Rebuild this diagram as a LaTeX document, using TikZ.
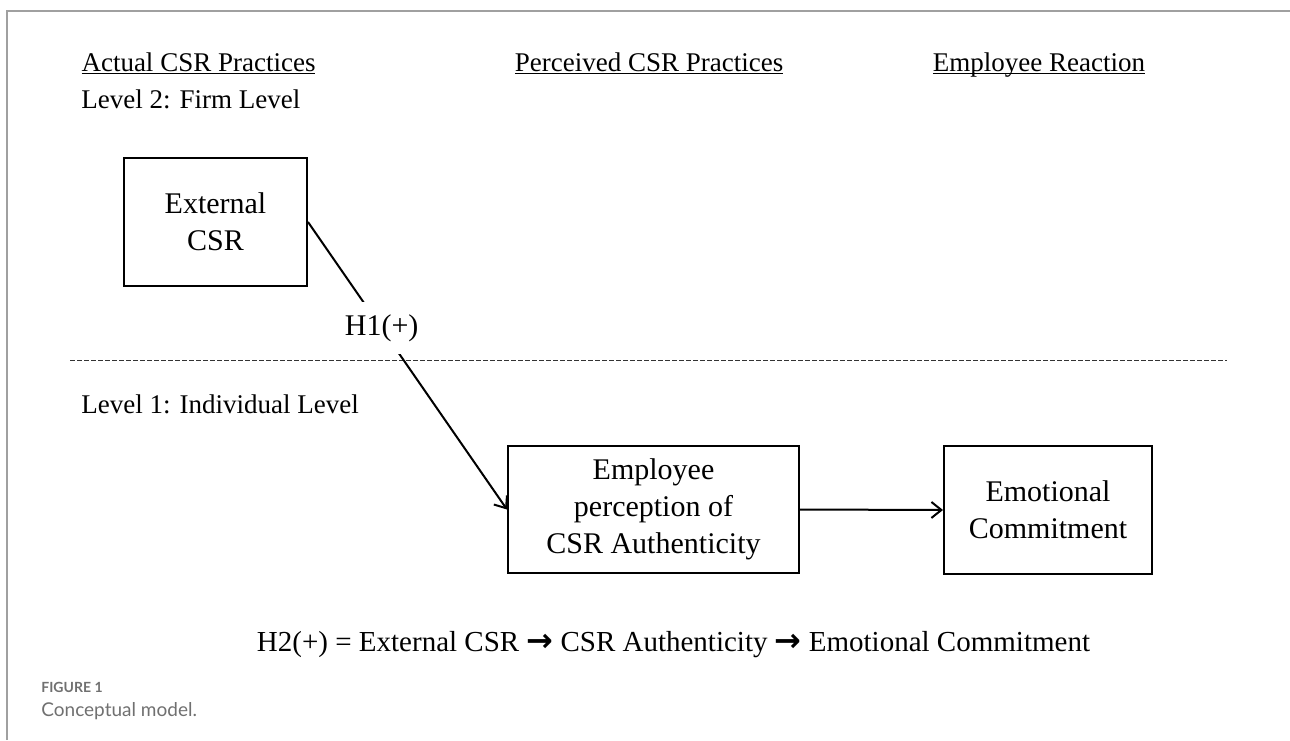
\documentclass[tikz,border=0pt]{standalone}
\usepackage{fontspec}
\setmainfont{Liberation Serif}
\newfontfamily\capfont{Lato}
\newfontfamily\arrowfont{DejaVu Sans}
\usepackage{tikz}
\usetikzlibrary{arrows.meta}
\definecolor{framegray}{RGB}{160,160,160}
\definecolor{capgray}{RGB}{112,112,112}
\newcommand\hdr[1]{\setbox0\hbox{#1}\rlap{\rule[-1.6pt]{\wd0}{0.6pt}}\box0}
\newcommand\thickto{{\arrowfont\bfseries\fontsize{16}{18}\selectfont →}}

\begin{document}
\begin{tikzpicture}[x = .5pt, y = -.5pt,
  box/.style = {draw, line width = 1pt, align = center, inner sep = 0pt, font = \fontsize{15}{18.5}\selectfont},
  head/.style = {anchor = base, inner sep = 0pt, font = \fontsize{13.5}{16}\selectfont},
  lvl/.style = {anchor = base west, inner sep = 0pt, font = \fontsize{13.5}{16}\selectfont},
  link/.style = {-{Straight Barb[length = 5pt, width = 8pt, line width = 1pt]}, line width = 1pt}]
\useasboundingbox (0,0) rectangle (1290,740);
\draw[framegray, line width = .7pt] (7,740) -- (7,11) -- (1290,11);
\node[head] (actual) at (198.5,71) {\hdr{Actual CSR Practices}};
\node[head] (perceived) at (649,71) {\hdr{Perceived CSR Practices}};
\node[head] (reaction) at (1039,71) {\hdr{Employee Reaction}};
\node[lvl] (firm) at (81,108) {Level 2: Firm Level};
\node[lvl] (indiv) at (81,413) {Level 1: Individual Level};
\node[box, minimum width = 91.5pt, minimum height = 64pt] (ext) at (215.5,222) {External\\CSR};
\node[box, minimum width = 145.5pt, minimum height = 63.5pt] (perc) at (653.5,509.5) {Employee\\perception of\\CSR Authenticity};
\node[box, minimum width = 104pt, minimum height = 64pt] (emo) at (1048,510) {Emotional\\Commitment};
\draw[black!80, dash pattern = on 2.5pt off 1pt, line width = .5pt] (70,360) -- (1227,360);
\draw[link] (ext.east) -- node[pos = .37, fill = white, inner xsep = 1pt, minimum height = 26pt, font = \fontsize{15}{18}\selectfont] (h1) {H1(+)} (perc.west);
\draw[link] (perc.east) -- (emo.west);
\node[anchor = base, inner sep = 0pt, font = \fontsize{14.5}{17}\selectfont] (h2) at (673.5,651) {H2(+) = External CSR \thickto\ CSR Authenticity \thickto\ Emotional Commitment};
\node[anchor = base west, inner sep = 0pt, capgray, font = \capfont\bfseries\fontsize{7}{8}\selectfont] (fig) at (41,692) {FIGURE 1};
\node[anchor = base west, inner sep = 0pt, capgray, font = \capfont\fontsize{9.5}{11}\selectfont] (cap) at (41,716) {Conceptual model.};
\end{tikzpicture}
\end{document}
